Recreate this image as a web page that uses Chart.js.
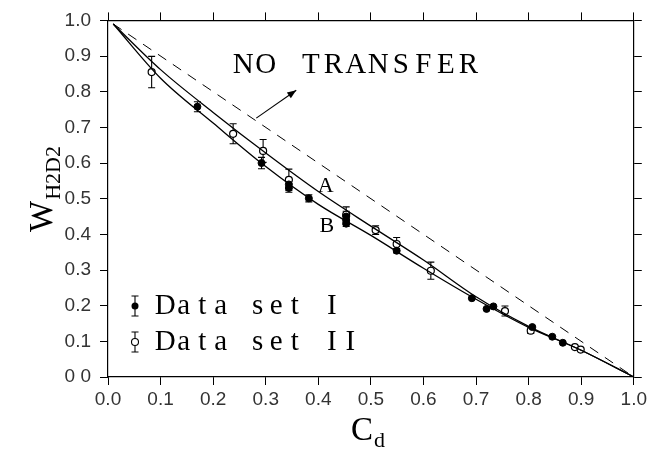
<!DOCTYPE html>
<html><head><meta charset="utf-8">
<script src="https://cdn.jsdelivr.net/npm/chart.js@4.4.1/dist/chart.umd.min.js"></script>
<style>html,body{margin:0;padding:0;background:#fff}#wrap{width:650px;height:450px}</style>
</head><body><div id="wrap"><canvas id="c" width="650" height="450"></canvas></div>
<script>
// ---- data ----
const xTickLabels = ['0.0','0.1','0.2','0.3','0.4','0.5','0.6','0.7','0.8','0.9','1.0'];
const yTickLabels = ['0 0','0.1','0.2','0.3','0.4','0.5','0.6','0.7','0.8','0.9','1.0'];

const curveX = [0.01, 0.1, 0.2, 0.3, 0.4, 0.5, 0.6, 0.7, 0.8, 0.9, 1.0];
const curveA = [0.99, 0.862, 0.742, 0.628, 0.52, 0.423, 0.328, 0.225, 0.142, 0.075, 0.0];
const curveB = [0.99, 0.838, 0.712, 0.59, 0.484, 0.397, 0.305, 0.218, 0.139, 0.075, 0.0];

const noTransferX = [0.01, 1.0];
const noTransferY = [0.99, 0.0];

const set1X   = [0.170, 0.292, 0.344, 0.344, 0.382, 0.453, 0.453, 0.453, 0.549, 0.692, 0.720, 0.733, 0.807, 0.845, 0.865];
const set1Y   = [0.758, 0.600, 0.540, 0.530, 0.501, 0.450, 0.440, 0.430, 0.354, 0.221, 0.191, 0.198, 0.140, 0.113, 0.096];
const set1Err = [0.014, 0.016, 0.012, 0.012, 0.010, 0.015, 0.012, 0.008, 0.006, 0, 0, 0, 0, 0, 0];

const set2X   = [0.083, 0.238, 0.295, 0.344, 0.453, 0.509, 0.549, 0.614, 0.755, 0.804, 0.888, 0.899];
const set2Y   = [0.855, 0.682, 0.634, 0.553, 0.455, 0.412, 0.373, 0.298, 0.185, 0.130, 0.084, 0.077];
const set2Err = [0.044, 0.028, 0.032, 0.030, 0.022, 0.012, 0.018, 0.024, 0.014, 0.008, 0, 0];

const legendLabels = ['Data set I', 'Data set II'];
const curveLabels = ['A', 'B'];
const noTransferLabel = 'NO TRANSFER';

// ---- build ----
const pts = (xs, ys) => xs.map((x, i) => ({x, y: ys[i]}));

const serif = '"Liberation Serif", "DejaVu Serif", serif';
const sans = '"Liberation Sans", Arial, sans-serif';

function spacedText(ctx, text, x, y, pitch) {
  ctx.textAlign = 'center';
  for (let i = 0; i < text.length; i++) {
    ctx.fillText(text[i], x + i * pitch + pitch / 2, y);
  }
}

function errBar(ctx, x, yTop, yBot, cap) {
  ctx.beginPath();
  ctx.moveTo(x, yTop); ctx.lineTo(x, yBot);
  ctx.moveTo(x - cap, yTop); ctx.lineTo(x + cap, yTop);
  ctx.moveTo(x - cap, yBot); ctx.lineTo(x + cap, yBot);
  ctx.stroke();
}

const errorBarPlugin = {
  id: 'errbars',
  beforeDatasetsDraw(chart) {
    const ctx = chart.ctx, xs = chart.scales.x, ys = chart.scales.y;
    ctx.save();
    ctx.strokeStyle = '#000';
    ctx.lineWidth = 1.1;
    [[set1X, set1Y, set1Err], [set2X, set2Y, set2Err]].forEach(([X, Y, E]) => {
      X.forEach((x, i) => {
        if (!E[i]) return;
        const px = xs.getPixelForValue(x);
        errBar(ctx, px, ys.getPixelForValue(Y[i] + E[i]), ys.getPixelForValue(Y[i] - E[i]), 3.5);
      });
    });
    ctx.restore();
  }
};

const annotPlugin = {
  id: 'annot',
  afterDraw(chart) {
    const ctx = chart.ctx, xs = chart.scales.x, ys = chart.scales.y;
    const X = v => xs.getPixelForValue(v), Y = v => ys.getPixelForValue(v);
    ctx.save();
    ctx.fillStyle = '#000';
    ctx.strokeStyle = '#000';
    ctx.textBaseline = 'middle';

    // NO TRANSFER
    ctx.font = '29px ' + serif;
    spacedText(ctx, noTransferLabel, X(0.236), Y(0.874), 22.5);

    // arrow
    const x0 = X(0.282), y0 = Y(0.726), x1 = X(0.358), y1 = Y(0.804);
    ctx.lineWidth = 1.1;
    ctx.beginPath(); ctx.moveTo(x0, y0); ctx.lineTo(x1, y1); ctx.stroke();
    const a = Math.atan2(y1 - y0, x1 - x0), L = 9, W = 3.5;
    ctx.beginPath();
    ctx.moveTo(x1, y1);
    ctx.lineTo(x1 - L * Math.cos(a) + W * Math.sin(a), y1 - L * Math.sin(a) - W * Math.cos(a));
    ctx.lineTo(x1 - L * Math.cos(a) - W * Math.sin(a), y1 - L * Math.sin(a) + W * Math.cos(a));
    ctx.closePath(); ctx.fill();

    // curve labels
    ctx.font = '22px ' + serif;
    ctx.textAlign = 'center';
    ctx.fillText(curveLabels[0], X(0.414), Y(0.534));
    ctx.fillText(curveLabels[1], X(0.416), Y(0.424));

    // legend
    const lx = 135, rows = [306, 342];
    ctx.lineWidth = 1.1;
    rows.forEach((ry, i) => {
      errBar(ctx, lx, ry - 10, ry + 10, 3.5);
      ctx.beginPath(); ctx.arc(lx, ry, 3.5, 0, Math.PI * 2);
      if (i === 0) { ctx.fill(); } else { ctx.fillStyle = '#fff'; ctx.fill(); ctx.stroke(); ctx.fillStyle = '#000'; }
      ctx.font = '29px ' + serif;
      spacedText(ctx, legendLabels[i], 156, ry, 18.5);
    });

    // x axis title C_d
    ctx.textBaseline = 'alphabetic';
    ctx.textAlign = 'left';
    ctx.font = '33px ' + serif;
    ctx.fillText('C', 351, 440);
    ctx.font = '22px ' + serif;
    ctx.fillText('d', 374, 447);

    // y axis title W_H2D2
    ctx.translate(52, 232);
    ctx.rotate(-Math.PI / 2);
    ctx.font = '33px ' + serif;
    ctx.fillText('W', 0, 0);
    const wW = ctx.measureText('W').width;
    ctx.font = '22px ' + serif;
    ctx.fillText('H2D2', wW + 1, 8);
    ctx.restore();
  }
};

const gridCfg = { drawOnChartArea: false, drawTicks: true, tickLength: 8, color: '#000', lineWidth: 1 };
const borderCfg = { display: true, color: '#000', width: 1.2 };
const tickFont = { family: sans, size: 19 };

new Chart(document.getElementById('c'), {
  type: 'scatter',
  data: {
    datasets: [
      { label: 'A', data: pts(curveX, curveA), showLine: true, borderColor: '#000', borderWidth: 1.3, pointRadius: 0, cubicInterpolationMode: 'monotone', fill: false },
      { label: 'B', data: pts(curveX, curveB), showLine: true, borderColor: '#000', borderWidth: 1.3, pointRadius: 0, cubicInterpolationMode: 'monotone', fill: false },
      { label: 'No transfer', data: pts(noTransferX, noTransferY), showLine: true, borderColor: '#000', borderWidth: 1, borderDash: [10, 8], pointRadius: 0, fill: false },
      { label: legendLabels[0], data: pts(set1X, set1Y), pointRadius: 3.5, pointBackgroundColor: '#000', pointBorderColor: '#000', pointBorderWidth: 1 },
      { label: legendLabels[1], data: pts(set2X, set2Y), pointRadius: 3.5, pointBackgroundColor: '#fff', pointBorderColor: '#000', pointBorderWidth: 1.2 }
    ]
  },
  options: {
    responsive: false,
    animation: false,
    devicePixelRatio: 1,
    layout: { padding: 0 },
    plugins: { legend: { display: false }, tooltip: { enabled: false } },
    scales: {
      x: {
        type: 'linear', position: 'bottom', min: 0, max: 1,
        ticks: { stepSize: 0.1, autoSkip: false, maxRotation: 0, font: tickFont, color: '#333', padding: 3,
                 callback: (v, i) => xTickLabels[i] },
        grid: gridCfg, border: borderCfg,
        afterFit: s => { s.height = 73; }
      },
      x2: {
        type: 'linear', position: 'top', min: 0, max: 1,
        ticks: { stepSize: 0.1, display: false },
        grid: gridCfg, border: borderCfg,
        afterFit: s => { s.height = 14; }
      },
      y: {
        type: 'linear', position: 'left', min: 0, max: 1,
        ticks: { stepSize: 0.1, autoSkip: false, font: tickFont, color: '#333', padding: 9,
                 callback: (v, i) => yTickLabels[i] },
        grid: gridCfg, border: borderCfg,
        afterFit: s => { s.width = 108; }
      },
      y2: {
        type: 'linear', position: 'right', min: 0, max: 1,
        ticks: { stepSize: 0.1, display: false },
        grid: gridCfg, border: borderCfg,
        afterFit: s => { s.width = 15; }
      }
    }
  },
  plugins: [errorBarPlugin, annotPlugin]
});
</script>
</body></html>
